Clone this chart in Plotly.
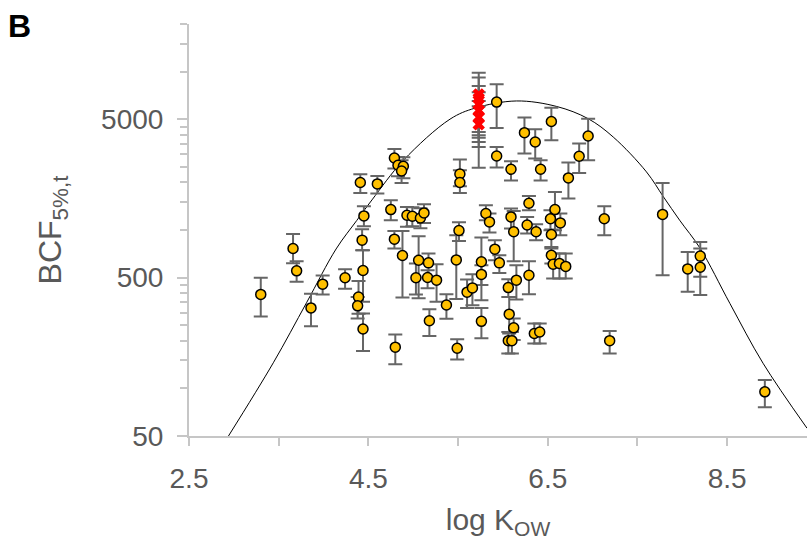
import plotly.graph_objects as go

# Data points (log Kow, BCF, upper error bound, lower error bound)
log_kow = [3.30, 3.66, 3.70, 3.86, 3.99, 4.24, 4.39, 4.38, 4.44, 4.44, 4.43, 4.45, 4.41, 4.60,
           4.75, 4.79, 4.88, 4.80, 4.79, 4.83, 4.89, 4.87, 4.93, 4.99, 5.08, 5.12, 5.03, 5.06,
           5.17, 5.16, 5.26, 5.18, 5.37, 5.49, 5.48, 5.51, 5.52, 5.52, 5.60, 5.66, 5.76, 5.76,
           5.76, 5.81, 5.85, 5.93, 5.93, 5.91, 5.96, 6.06, 6.15, 6.07, 6.12, 6.06, 6.10, 6.09,
           6.09, 6.12, 6.24, 6.36, 6.42, 6.27, 6.29, 6.29, 6.37, 6.35, 6.41, 6.54, 6.53, 6.58,
           6.64, 6.54, 6.54, 6.56, 6.63, 6.70, 6.73, 6.85, 6.95, 7.13, 7.19, 7.78, 8.06, 8.20,
           8.20, 8.92]
bcf = [392, 764, 552, 322, 455, 499, 377, 332, 237, 555, 863, 1227, 1995, 1954,
       1346, 875, 690, 182, 2849, 2564, 2523, 2359, 1239, 1222, 1191, 1282, 499, 644,
       620, 501, 482, 267, 336, 179, 647, 993, 2259, 1995, 405, 431, 630, 524,
       265, 1271, 1125, 6427, 2931, 757, 620, 433, 482, 294, 241, 200, 200, 2419,
       1210, 975, 4120, 3596, 2419, 1076, 1475, 518, 975, 222, 227, 4842, 1177, 1346,
       1109, 937, 693, 608, 615, 589, 2133, 2922, 3925, 1177, 200, 1254, 568, 684,
       582, 95]
bcf_high = [499, 944, 635, 395, 516, 566, 477, 378, 297, 746, 1011, 1413, 2249, 2193,
            1541, 986, 986, 219, 3250, 2891, 2878, 2754, 1399, 1393, 1371, 1455, 615, 914,
            711, 557, 608, 316, 393, 204, 927, 1120, 2784, 2383, 487, 526, 897, 600,
            322, 1433, 1271, 8317, 3342, 863, 693, 489, 600, 378, 276, 227, 227, 2716,
            1367, 1318, 5126, 4324, 2754, 1210, 1640, 635, 1088, 257, 257, 5925, 1333, 1739,
            1271, 1007, 782, 711, 711, 711, 2664, 3514, 5046, 1413, 230, 1982, 727, 841,
            764, 113]
bcf_low = [284, 617, 471, 247, 392, 425, 296, 276, 172, 352, 746, 1057, 1713, 1699,
           1152, 764, 375, 142, 2443, 2184, 2123, 1982, 1047, 1057, 1026, 1109, 392, 370,
           501, 428, 352, 214, 275, 152, 366, 853, 1888, 1713, 322, 335, 360, 449,
           207, 1152, 964, 4405, 2479, 644, 536, 378, 364, 222, 202, 166, 166, 2051,
           1021, 635, 3040, 2825, 2051, 950, 1333, 393, 863, 192, 192, 3687, 998, 998,
           927, 764, 615, 494, 494, 494, 1581, 2292, 2754, 927, 166, 518, 407, 506,
           388, 76]

# Highlighted (red) points
red_kow = [5.73, 5.73, 5.73, 5.73, 5.73, 5.73]
red_bcf = [7190, 6780, 6220, 5700, 5150, 4650]
red_high = [9860, 9170, 8120, 7400, 6520, 6040]
red_low = [4160, 3960, 3830, 3340, 2470, 3600]

# Fitted curve
curve_kow = [2.94, 3.44, 3.81, 4.14, 4.37, 4.54, 4.89, 5.41, 5.69, 6.15, 6.60, 6.95, 7.23,
             7.60, 7.79, 7.97, 8.20, 8.53, 8.90, 9.39]
curve_bcf = [50, 145, 347, 759, 1148, 1549, 2754, 5012, 5888, 6531, 6026, 5047, 3864,
             2328, 1618, 1153, 764, 344, 144, 56]

FONT = "Arial, Liberation Sans, sans-serif"
GREY = "#595959"
AXIS = "#c6c6c6"

fig = go.Figure()

fig.add_trace(go.Scatter(
    x=curve_kow, y=curve_bcf, mode="lines", line=dict(color="black", width=1, shape="spline"),
    hoverinfo="skip", showlegend=False))

fig.add_trace(go.Scatter(
    x=log_kow, y=bcf, mode="markers",
    marker=dict(color="#FFC000", size=10, line=dict(color="black", width=1.5)),
    error_y=dict(type="data", symmetric=False,
                 array=[h - v for h, v in zip(bcf_high, bcf)],
                 arrayminus=[v - l for v, l in zip(bcf, bcf_low)],
                 color="#666666", thickness=2, width=7),
    showlegend=False))

fig.add_trace(go.Scatter(
    x=red_kow, y=red_bcf, mode="markers",
    marker=dict(color="#FF0000", size=11, symbol="x"),
    error_y=dict(type="data", symmetric=False,
                 array=[h - v for h, v in zip(red_high, red_bcf)],
                 arrayminus=[v - l for v, l in zip(red_bcf, red_low)],
                 color="#666666", thickness=2, width=7),
    showlegend=False))

minor_y = [100, 150, 200, 250, 300, 350, 400, 450,
           1000, 1500, 2000, 2500, 3000, 3500, 4000, 4500,
           10000, 15000, 20000]

fig.update_layout(
    width=807, height=543,
    margin=dict(l=189, r=0, t=24, b=107),
    paper_bgcolor="white", plot_bgcolor="white",
    font=dict(family=FONT, color=GREY, size=28),
    xaxis=dict(
        range=[2.5, 9.39], tickmode="array", tickvals=[2.5, 4.5, 6.5, 8.5],
        ticktext=["2.5", "4.5", "6.5", "8.5"],
        showgrid=False, zeroline=False, showline=True, linecolor=AXIS, linewidth=2,
        ticks="outside", ticklen=8, tickwidth=2, tickcolor=AXIS,
        minor=dict(tickmode="array", tickvals=[3.5, 5.5, 7.5, 9.5], ticks="outside",
                   ticklen=8, tickwidth=2, tickcolor=AXIS, showgrid=False),
        tickfont=dict(size=28, color=GREY),
        ticklabelstandoff=8,
        title=dict(text="log K<sub>OW</sub>", font=dict(size=30, color=GREY), standoff=16),
    ),
    yaxis=dict(
        type="log", range=[1.69897, 4.30103], tickmode="array",
        tickvals=[50, 500, 5000], ticktext=["50", "500", "5000"],
        showgrid=False, zeroline=False, showline=True, linecolor=AXIS, linewidth=2,
        ticks="outside", ticklen=10, tickwidth=2, tickcolor=AXIS,
        minor=dict(tickmode="array", tickvals=minor_y, ticks="outside",
                   ticklen=7, tickwidth=2, tickcolor=AXIS, showgrid=False),
        tickfont=dict(size=28, color=GREY),
        ticklabelstandoff=8,
        title=dict(text="BCF<sub>5%,t</sub>", font=dict(size=32, color=GREY), standoff=30),
    ),
    annotations=[dict(text="<b>B</b>", xref="paper", yref="paper",
                      x=(6 - 189) / 618, y=(436 - 6) / 412, xanchor="left", yanchor="top",
                      showarrow=False, font=dict(size=32, color="black", family=FONT))],
)

fig.write_html("out.html")
